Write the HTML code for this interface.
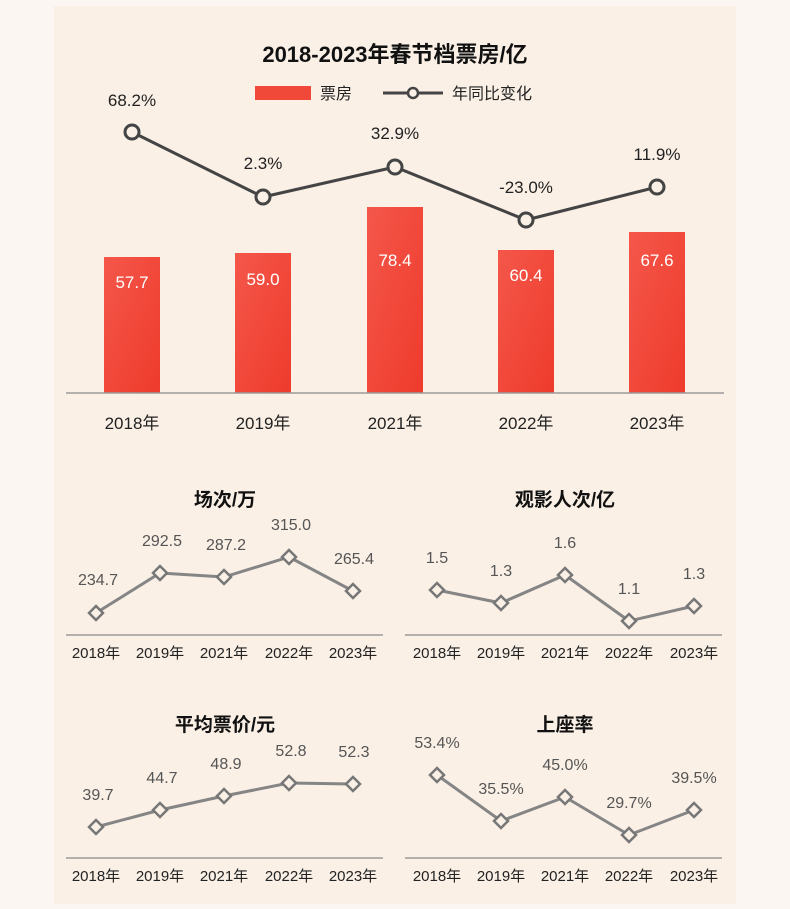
<!DOCTYPE html><html><head><meta charset="utf-8"><style>
body{margin:0;width:790px;height:904px;background:#fbf6f1;font-family:"Liberation Sans","Noto Sans CJK SC",sans-serif;overflow:hidden}
</style></head><body>
<svg width="790" height="904" xmlns="http://www.w3.org/2000/svg" font-family="Liberation Sans, Noto Sans CJK SC, sans-serif">
<defs><linearGradient id="g" x1="0" y1="0" x2="1" y2="1"><stop offset="0" stop-color="#f4574a"/><stop offset="1" stop-color="#ee3b2c"/></linearGradient></defs>
<rect x="0" y="0" width="790" height="904" fill="#fbf6f1"/>
<rect x="54" y="6" width="682" height="898" fill="#faf0e6"/>
<text x="395" y="62" text-anchor="middle" font-size="22" font-weight="bold" fill="#111">2018-2023年春节档票房/亿</text>
<rect x="255" y="86" width="56" height="14" fill="#f0493a"/>
<text x="320" y="99" font-size="16" fill="#222">票房</text>
<line x1="383" y1="93" x2="443" y2="93" stroke="#444" stroke-width="3"/><circle cx="413" cy="93" r="5" fill="#faf0e6" stroke="#444" stroke-width="2.5"/>
<text x="452" y="99" font-size="16" fill="#222">年同比变化</text>
<g fill="url(#g)">
<rect x="104" y="257" width="56" height="136"/><rect x="235" y="253" width="56" height="140"/><rect x="367" y="207" width="56" height="186"/><rect x="498" y="250" width="56" height="143"/><rect x="629" y="232" width="56" height="161"/></g>
<g fill="#fff" font-size="17" text-anchor="middle"><text x="132" y="288">57.7</text><text x="263" y="285">59.0</text><text x="395" y="266">78.4</text><text x="526" y="281">60.4</text><text x="657" y="266">67.6</text></g>
<line x1="66" y1="393" x2="724" y2="393" stroke="#999" stroke-width="1.5"/>
<g font-size="17" text-anchor="middle" fill="#222"><text x="132" y="429">2018年</text><text x="263" y="429">2019年</text><text x="395" y="429">2021年</text><text x="526" y="429">2022年</text><text x="657" y="429">2023年</text></g>
<polyline points="132,132 263,197 395,167 526,220 657,187" fill="none" stroke="#444" stroke-width="3"/>
<g fill="#faf0e6" stroke="#444" stroke-width="3"><circle cx="132" cy="132" r="7"/><circle cx="263" cy="197" r="7"/><circle cx="395" cy="167" r="7"/><circle cx="526" cy="220" r="7"/><circle cx="657" cy="187" r="7"/></g>
<g font-size="17" text-anchor="middle" fill="#222"><text x="132" y="106">68.2%</text><text x="263" y="169">2.3%</text><text x="395" y="139">32.9%</text><text x="526" y="193">-23.0%</text><text x="657" y="160">11.9%</text></g>

<g font-size="19" font-weight="bold" text-anchor="middle" fill="#111"><text x="225" y="506">场次/万</text><text x="565" y="506">观影人次/亿</text><text x="225" y="731">平均票价/元</text><text x="565" y="731">上座率</text></g>
<g stroke="#999" stroke-width="1.5"><line x1="66" y1="635" x2="383" y2="635"/><line x1="405" y1="635" x2="722" y2="635"/><line x1="66" y1="858" x2="383" y2="858"/><line x1="405" y1="858" x2="722" y2="858"/></g>
<g font-size="15" text-anchor="middle" fill="#222">
<text x="96" y="658">2018年</text><text x="160" y="658">2019年</text><text x="224" y="658">2021年</text><text x="289" y="658">2022年</text><text x="353" y="658">2023年</text>
<text x="437" y="658">2018年</text><text x="501" y="658">2019年</text><text x="565" y="658">2021年</text><text x="629" y="658">2022年</text><text x="694" y="658">2023年</text>
<text x="96" y="881">2018年</text><text x="160" y="881">2019年</text><text x="224" y="881">2021年</text><text x="289" y="881">2022年</text><text x="353" y="881">2023年</text>
<text x="437" y="881">2018年</text><text x="501" y="881">2019年</text><text x="565" y="881">2021年</text><text x="629" y="881">2022年</text><text x="694" y="881">2023年</text></g>
<g fill="none" stroke="#858585" stroke-width="3">
<polyline points="96,613 160,573 224,577 289,557 353,591"/>
<polyline points="437,590 501,603 565,575 629,621 694,606"/>
<polyline points="96,827 160,810 224,796 289,783 353,784"/>
<polyline points="437,775 501,821 565,797 629,835 694,810"/></g>
<g fill="#faf0e6" stroke="#777" stroke-width="2.5">
<path d="M96 606l7 7-7 7-7-7z M160 566l7 7-7 7-7-7z M224 570l7 7-7 7-7-7z M289 550l7 7-7 7-7-7z M353 584l7 7-7 7-7-7z"/>
<path d="M437 583l7 7-7 7-7-7z M501 596l7 7-7 7-7-7z M565 568l7 7-7 7-7-7z M629 614l7 7-7 7-7-7z M694 599l7 7-7 7-7-7z"/>
<path d="M96 820l7 7-7 7-7-7z M160 803l7 7-7 7-7-7z M224 789l7 7-7 7-7-7z M289 776l7 7-7 7-7-7z M353 777l7 7-7 7-7-7z"/>
<path d="M437 768l7 7-7 7-7-7z M501 814l7 7-7 7-7-7z M565 790l7 7-7 7-7-7z M629 828l7 7-7 7-7-7z M694 803l7 7-7 7-7-7z"/></g>
<g font-size="16" text-anchor="middle" fill="#555">
<text x="98" y="585">234.7</text><text x="162" y="546">292.5</text><text x="226" y="550">287.2</text><text x="291" y="530">315.0</text><text x="354" y="564">265.4</text>
<text x="437" y="563">1.5</text><text x="501" y="576">1.3</text><text x="565" y="548">1.6</text><text x="629" y="594">1.1</text><text x="694" y="579">1.3</text>
<text x="98" y="800">39.7</text><text x="162" y="783">44.7</text><text x="226" y="769">48.9</text><text x="291" y="756">52.8</text><text x="354" y="757">52.3</text>
<text x="437" y="748">53.4%</text><text x="501" y="794">35.5%</text><text x="565" y="770">45.0%</text><text x="629" y="808">29.7%</text><text x="694" y="783">39.5%</text></g>
</svg></body></html>
